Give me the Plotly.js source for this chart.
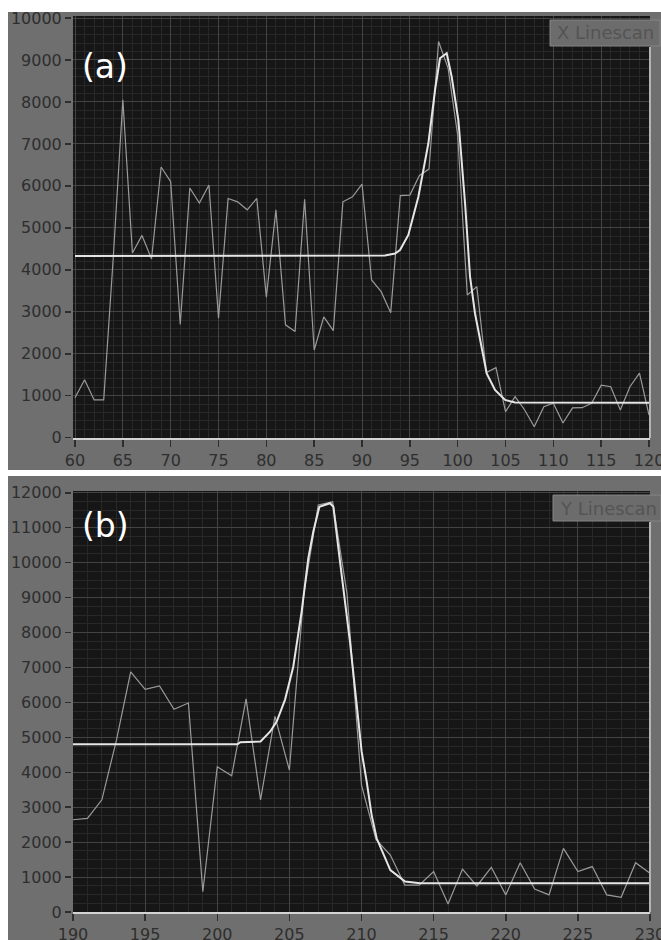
<!DOCTYPE html>
<html>
<head>
<meta charset="utf-8">
<script src="https://cdn.plot.ly/plotly-3.0.1.min.js"></script>
<style>html,body{margin:0;padding:0;background:#fff;}#chart{width:661px;height:940px;}</style>
</head>
<body>
<div id="chart"></div>
<script>
// ---- Panel (a): X linescan ----
const xRawA = [60,61,62,63,64,65,66,67,68,69,70,71,72,73,74,75,76,77,78,79,80,81,82,83,84,85,86,87,88,89,90,91,92,93,94,95,96,97,98,99,100,101,102,103,104,105,106,107,108,109,110,111,112,113,114,115,116,117,118,119,120];
const yRawA = [950,1380,900,900,4300,8050,4400,4820,4260,6450,6100,2700,5950,5590,6020,2850,5700,5620,5430,5700,3350,5430,2690,2530,5680,2090,2880,2550,5620,5740,6040,3760,3480,2980,5770,5780,6250,6400,9440,8800,7200,3400,3600,1550,1670,620,980,660,260,740,820,350,710,715,820,1250,1215,660,1215,1540,540];
const xFitA = [60,92.4,93.45,93.97,94.84,95.89,96.93,97.63,98.15,98.85,99.37,100.07,100.77,101.29,101.81,102.51,103.03,103.9,104.95,106,120];
const yFitA = [4330,4340,4390,4470,4830,5740,7010,8280,9040,9160,8600,7570,5580,3840,2960,2090,1530,1140,900,840,830];

// ---- Panel (b): Y linescan ----
const xRawB = [190,191,192,193,194,195,196,197,198,199,200,201,202,203,204,205,206,207,208,209,210,211,212,213,214,215,216,217,218,219,220,221,222,223,224,225,226,227,228,229,230];
const yRawB = [2640,2680,3210,4900,6870,6370,6470,5800,5980,580,4160,3900,6100,3210,5600,4060,9100,11650,11740,9100,3630,2080,1630,770,770,1160,230,1230,745,1280,490,1410,660,490,1820,1160,1300,490,420,1410,1110];
const xFitB = [190,201.4,201.6,203.0,203.66,204.12,204.7,205.27,205.85,206.31,206.66,207.08,207.82,208.05,208.51,209.2,209.67,210.01,210.36,210.7,211.05,212.0,213.02,214.06,230];
const yFitB = [4800,4800,4860,4880,5160,5450,6080,7020,8600,10120,10890,11600,11700,11600,10030,7740,5920,4590,3730,2780,2110,1200,870,820,820];

const panelLabels = ['(a)','(b)'];
const legendLabels = ['X Linescan','Y Linescan'];
const ticksXA = [60,65,70,75,80,85,90,95,100,105,110,115,120];
const ticksXB = [190,195,200,205,210,215,220,225,230];

const W = 661, H = 940;
const px = v => v / W;
const py = v => 1 - v / H;

const rawStyle = {color:'#9a9a9a', width:1.2};
const fitStyle = {color:'#e6e6e6', width:2};

const traces = [
  {x:xRawA, y:yRawA, mode:'lines', line:rawStyle, xaxis:'x', yaxis:'y', hoverinfo:'skip'},
  {x:xFitA, y:yFitA, mode:'lines', line:fitStyle, xaxis:'x', yaxis:'y', hoverinfo:'skip'},
  {x:xRawB, y:yRawB, mode:'lines', line:rawStyle, xaxis:'x2', yaxis:'y2', hoverinfo:'skip'},
  {x:xFitB, y:yFitB, mode:'lines', line:fitStyle, xaxis:'x2', yaxis:'y2', hoverinfo:'skip'}
];

const tickFont = {family:'DejaVu Sans', size:16, color:'#2e2e2e'};
const majorGrid = '#434343';
const minorGrid = '#282828';

function xAxis(range, ticks, anchor){
  return {
    domain:[px(73), px(650)], range:range, anchor:anchor,
    tickmode:'array', tickvals:ticks, ticktext:ticks.map(String),
    ticks:'outside', ticklen:7, tickwidth:1.5, tickcolor:'#2e2e2e',
    tickfont:tickFont, ticklabeloverflow:'allow',
    showgrid:true, gridcolor:majorGrid, gridwidth:1,
    minor:{dtick:1, showgrid:true, gridcolor:minorGrid, gridwidth:1, ticks:''},
    showline:true, linecolor:'#d4d4d4', linewidth:2, mirror:false,
    zeroline:false, fixedrange:true
  };
}
function yAxis(domain, range, minorStep){
  return {
    domain:domain, range:range, anchor:'free', position:px(71),
    dtick:1000, tick0:0, tickformat:'d',
    ticks:'outside', ticklen:6, tickwidth:1.5, tickcolor:'#2e2e2e',
    tickfont:tickFont, ticklabeloverflow:'allow',
    showgrid:true, gridcolor:majorGrid, gridwidth:1,
    minor:{dtick:minorStep, showgrid:true, gridcolor:minorGrid, gridwidth:1, ticks:''},
    showline:false, zeroline:false, fixedrange:true
  };
}

const layout = {
  width:W, height:H, margin:{l:0,r:0,t:0,b:0},
  paper_bgcolor:'#6f6f6f', plot_bgcolor:'#161616', showlegend:false,
  xaxis: xAxis([59.79,120.1], ticksXA, 'y'),
  yaxis: yAxis([py(438), py(16)], [-7,10048], 200),
  xaxis2: xAxis([190,230], ticksXB, 'y2'),
  yaxis2: yAxis([py(912), py(491)], [0,12050], 250),
  shapes:[
    // white surround outside the two gray panels
    {type:'rect', xref:'paper', yref:'paper', x0:0, x1:1, y0:py(12), y1:1, fillcolor:'#ffffff', line:{width:0}, layer:'below'},
    {type:'rect', xref:'paper', yref:'paper', x0:0, x1:px(8), y0:0, y1:1, fillcolor:'#ffffff', line:{width:0}, layer:'below'},
    {type:'rect', xref:'paper', yref:'paper', x0:0, x1:1, y0:py(476), y1:py(470), fillcolor:'#ffffff', line:{width:0}, layer:'below'},
    {type:'line', xref:'paper', yref:'paper', x0:px(650), x1:px(650), y0:py(438), y1:py(47), line:{color:'#b4b4b4', width:2}},
    {type:'line', xref:'paper', yref:'paper', x0:px(650), x1:px(650), y0:py(912), y1:py(522), line:{color:'#b4b4b4', width:2}},
    {type:'rect', xref:'paper', yref:'paper', x0:px(550), x1:px(660), y0:py(46), y1:py(20), fillcolor:'#6c6c6c', line:{color:'#858585', width:1}},
    {type:'rect', xref:'paper', yref:'paper', x0:px(553), x1:px(661), y0:py(521), y1:py(495), fillcolor:'#6c6c6c', line:{color:'#858585', width:1}}
  ],
  annotations:[
    {xref:'paper', yref:'paper', x:px(105), y:py(66), text:panelLabels[0], showarrow:false, font:{family:'DejaVu Sans', size:33, color:'#ffffff'}, xanchor:'center', yanchor:'middle'},
    {xref:'paper', yref:'paper', x:px(105), y:py(525), text:panelLabels[1], showarrow:false, font:{family:'DejaVu Sans', size:33, color:'#ffffff'}, xanchor:'center', yanchor:'middle'},
    {xref:'paper', yref:'paper', x:px(605), y:py(33), text:legendLabels[0], showarrow:false, font:{family:'DejaVu Sans', size:18, color:'#545454'}, xanchor:'center', yanchor:'middle'},
    {xref:'paper', yref:'paper', x:px(608), y:py(508), text:legendLabels[1], showarrow:false, font:{family:'DejaVu Sans', size:18, color:'#545454'}, xanchor:'center', yanchor:'middle'}
  ]
};

Plotly.newPlot('chart', traces, layout, {staticPlot:true, displayModeBar:false});
</script>
</body>
</html>
